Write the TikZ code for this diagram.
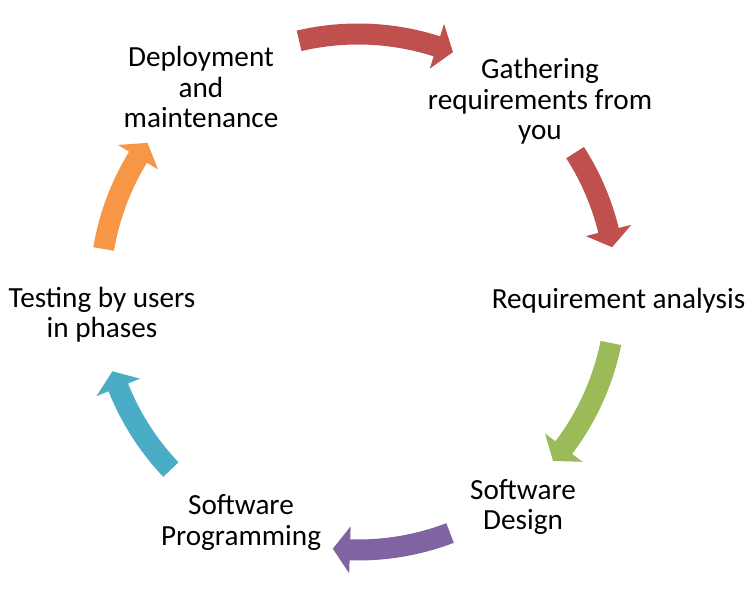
\documentclass[tikz,border=0pt]{standalone}
\usepackage{fontspec}
\setmainfont{Carlito}

% Office palette used by the cycle arrows
\definecolor{arrowred}{HTML}{C0504D}
\definecolor{arrowgreen}{HTML}{9BBB59}
\definecolor{arrowpurple}{HTML}{8064A2}
\definecolor{arrowteal}{HTML}{4BACC6}
\definecolor{arroworange}{HTML}{F79646}

% Curved block arrow on the cycle ring (clockwise).
% #1 colour, #2 angle of the tail, #3 angle of the tip.
\newcommand\cyclearrow[3]{%
  \fill[#1] (#2:268.5)
    arc[start angle=#2, end angle={#3+3.8}, radius=268.5]
    -- ({#3+3.8}:281.5) -- (#3:258) -- ({#3+3.8}:234.5)
    -- ({#3+3.8}:247.5)
    arc[start angle={#3+3.8}, end angle=#2, radius=247.5]
    -- cycle;}

\begin{document}
\begin{tikzpicture}[x=1pt, y=1pt,
  steplabel/.style={font=\fontsize{29.2}{30.5}\selectfont, align=center,
                    inner sep=0pt, text=black}]
\useasboundingbox (0,0) rectangle (755,596);

% ring of arrows around the cycle centre
\begin{scope}[shift={(358,304)}]
  \cyclearrow{arrowred}{103.2}{68.4}
  \cyclearrow{arrowred}{32.7}{10.0}
  \cyclearrow{arrowgreen}{-11.4}{-40.9}
  \cyclearrow{arrowpurple}{-69.1}{-95.6}
  \cyclearrow{arrowteal}{-136.5}{-162.1}
  \cyclearrow{arroworange}{170.4}{144.7}
\end{scope}

% the six stages
\node[steplabel] (gather)  at (540,494.5) {Gathering\\requirements from\\you};
\node[steplabel] (analyse) at (618.5,295) {Requirement analysis};
\node[steplabel] (design)  at (523,89)    {Software\\Design};
\node[steplabel] (program) at (241,73.5)  {Software\\Programming};
\node[steplabel] (testing) at (102,281.5) {Testing by users\\in phases};
\node[steplabel] (deploy)  at (201,509)   {Deployment\\and\\maintenance};
\end{tikzpicture}
\end{document}
